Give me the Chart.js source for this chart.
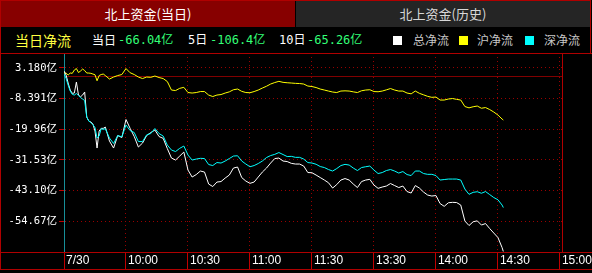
<!DOCTYPE html>
<html>
<head>
<meta charset="utf-8">
<script src="https://cdn.jsdelivr.net/npm/chart.js@4/dist/chart.umd.min.js"></script>
<style>
  html,body{margin:0;padding:0;background:#000;}
  body{width:592px;height:273px;overflow:hidden;position:relative;font-family:"Noto Sans CJK SC",sans-serif;}
  .abs{position:absolute;white-space:nowrap;}
  #frame{left:0;top:0;width:591px;height:53px;border-left:1px solid #b00000;border-top:1px solid #b00000;border-right:1px solid #b00000;box-sizing:border-box;}
  .tab{top:1px;height:26px;line-height:26px;text-align:center;font-size:13px;}
  #tab1{left:1px;width:294px;background:#870000;color:#fff;}
  #tab2{left:296px;width:294px;background:#252525;color:#d8d8d8;}
  .row{top:31px;height:18px;line-height:18px;font-size:12px;}
  .num{font-family:"DejaVu Sans Mono","Noto Sans CJK SC",monospace;color:#33ff77;}
  .lab{color:#fff;}
  .sq{position:absolute;top:36px;width:9px;height:9px;}
  .lg{color:#c8c8c8;}
  #c{position:absolute;left:0;top:53px;}
</style>
</head>
<body>
<div id="frame" class="abs"></div>
<div id="tab1" class="abs tab">北上资金(当日)</div>
<div id="tab2" class="abs tab">北上资金(历史)</div>

<div class="abs row" style="left:15px;font-size:14px;color:#ffff40;">当日净流</div>
<div class="abs row lab" style="left:92px;">当日</div>
<div class="abs row num" style="left:118px;">-66.04亿</div>
<div class="abs row lab" style="left:188px;font-family:'DejaVu Sans Mono','Noto Sans CJK SC';">5日</div>
<div class="abs row num" style="left:210px;">-106.4亿</div>
<div class="abs row lab" style="left:279px;font-family:'DejaVu Sans Mono','Noto Sans CJK SC';">10日</div>
<div class="abs row num" style="left:307px;">-65.26亿</div>

<div class="sq" style="left:393px;background:#fff;"></div>
<div class="abs row lg" style="left:413px;">总净流</div>
<div class="sq" style="left:459px;background:#ffff00;"></div>
<div class="abs row lg" style="left:477px;">沪净流</div>
<div class="sq" style="left:525px;background:#00ffff;"></div>
<div class="abs row lg" style="left:544px;">深净流</div>

<canvas id="c" width="592" height="220"></canvas>

<script>
// ---- data (minutes since 9:30 on the trading clock, values in 亿) ----
const times = [0,1,2,3,4,5,6,7,8,9,10,11,12,13,14,15,16,17,18,19,20,
  22,24,26,28,30,32,34,36,38,40,42,44,46,48,50,52,54,56,58,60,
  62,64,66,68,70,72,74,76,78,80,82,84,86,88,90,92,94,96,98,100,
  102,104,106,108,110,112,114,116,118,120,122,124,126,128,130,132,134,136,138,140,
  142,144,146,148,150,152,154,156,158,160,162,164,166,168,170,172,174,176,178,180,
  182,184,186,188,190,192,194,196,198,200,202,204,206,208,210,212,212.6];

const totalFlow = [1.96,0.45,-2.56,-5.20,-6.44,-6.33,-2.19,-7.09,-7.73,-7.09,-5.95,-15.38,-16.89,-17.26,-18.02,-20.65,-27.06,-20.65,-19.64,-19.64,-19.15,
  -24.42,-27.06,-22.35,-23.10,-16.32,-19.64,-22.73,-26.68,-25.18,-22.35,-21.22,-20.28,-22.73,-23.41,-27.25,-30.83,-31.58,-30.08,-28.57,-35.35,
  -37.99,-37.05,-35.73,-36.11,-40.63,-41.57,-39.88,-39.69,-38.37,-37.24,-34.60,-34.22,-38.18,-39.50,-40.37,-39.88,-37.99,-36.11,-34.60,-32.71,
  -31.02,-30.83,-31.96,-32.15,-32.83,-33.09,-33.09,-33.85,-36.30,-36.37,-37.24,-38.18,-39.12,-40.14,-42.14,-40.82,-39.12,-38.56,-39.12,-40.63,
  -41.95,-39.69,-39.12,-38.86,-41.01,-42.25,-41.76,-41.38,-40.44,-41.20,-41.95,-41.38,-43.46,-44.02,-41.20,-42.14,-43.65,-44.78,-45.15,-44.96,
  -47.98,-49.03,-47.68,-47.53,-47.60,-48.54,-54.57,-56.27,-54.84,-54.50,-56.08,-55.52,-57.40,-59.10,-60.79,-64.56,-66.04];

const shFlow = [1.21,1.21,0.45,1.21,1.09,2.34,2.90,1.39,1.96,2.71,2.15,1.21,1.21,1.09,0.83,0.57,-1.70,0.26,0.64,0.83,0.26,
  -1.06,-0.30,0.26,0.64,2.90,1.32,0.64,-0.30,-0.87,-0.30,-0.41,0.08,-0.49,-0.87,-2.00,-5.20,-5.39,-4.56,-4.18,-6.14,
  -6.33,-6.14,-5.77,-5.77,-7.09,-7.65,-7.09,-6.90,-6.33,-5.88,-5.09,-4.82,-5.69,-6.14,-6.22,-5.77,-5.20,-4.45,-3.77,-2.94,
  -2.37,-1.92,-2.30,-2.45,-2.56,-2.68,-2.75,-2.94,-3.69,-3.88,-4.26,-4.82,-5.20,-5.58,-5.95,-6.14,-5.58,-5.50,-5.58,-5.88,
  -6.14,-5.47,-5.20,-5.09,-5.77,-5.84,-5.58,-5.13,-4.64,-5.20,-5.58,-5.58,-6.33,-6.63,-5.58,-6.44,-7.01,-7.58,-7.95,-7.84,
  -8.97,-8.97,-8.59,-8.40,-8.71,-8.97,-11.42,-11.91,-11.50,-11.23,-12.06,-11.80,-12.55,-13.49,-14.62,-16.13,-16.51];

const szFlow = [0.83,-0.79,-3.32,-5.58,-6.82,-7.09,-6.52,-7.27,-8.03,-8.59,-9.16,-15.38,-16.89,-17.45,-18.28,-19.33,-23.29,-22.54,-19.71,-20.09,-19.71,
  -23.29,-25.37,-22.35,-22.84,-18.39,-20.47,-21.22,-24.61,-24.61,-22.09,-21.60,-19.71,-21.60,-22.54,-25.93,-27.82,-28.38,-27.17,-26.31,-29.70,
  -31.58,-31.21,-30.94,-31.02,-33.28,-33.66,-32.53,-32.71,-31.96,-31.02,-30.08,-29.96,-31.96,-33.09,-34.11,-33.66,-32.90,-31.96,-30.64,-29.89,
  -29.44,-28.76,-29.51,-30.27,-30.19,-30.57,-30.57,-31.21,-32.53,-32.71,-33.17,-34.03,-34.41,-35.16,-35.73,-34.79,-33.66,-33.21,-33.47,-34.60,
  -35.54,-34.41,-34.11,-33.85,-35.36,-36.67,-36.30,-35.54,-35.16,-35.73,-36.48,-35.92,-37.05,-37.43,-35.73,-35.73,-36.67,-36.97,-36.97,-37.43,
  -39.12,-38.93,-38.75,-38.75,-38.75,-39.12,-42.51,-44.51,-43.76,-43.53,-44.10,-43.46,-44.59,-45.72,-46.55,-48.54,-49.49];

const xTickMinutes = [0,30,60,90,120,150,180,210,240];
const xTickLabels = ['7/30','10:00','10:30','11:00','11:30','13:30','14:00','14:30','15:00'];
const yTickValues = [3.180,-8.391,-19.96,-31.53,-43.10,-54.67];
const yTickLabels = ['3.180亿','-8.391亿','-19.96亿','-31.53亿','-43.10亿','-54.67亿'];
const yMin = -66.24, yMax = 8.76;
const xMin = 0, xMax = 241;

const pts = arr => times.map((t,i)=>({x:t,y:arr[i]}));

const framePlugin = {
  id:'frame',
  afterDraw(chart){
    const {ctx, chartArea:a, width} = chart;
    const rowH = 17;
    ctx.save();
    ctx.strokeStyle = '#b00000';
    ctx.lineWidth = 1;
    ctx.beginPath();
    ctx.moveTo(0, a.top+0.5); ctx.lineTo(width, a.top+0.5);
    ctx.moveTo(0, a.bottom+0.5); ctx.lineTo(width, a.bottom+0.5);
    ctx.moveTo(0, a.bottom+rowH+0.5); ctx.lineTo(width, a.bottom+rowH+0.5);
    ctx.moveTo(0.5, 0); ctx.lineTo(0.5, a.bottom+rowH+1);
    ctx.moveTo(a.right+0.5, a.top); ctx.lineTo(a.right+0.5, a.bottom);
    ctx.stroke();
    ctx.restore();
  }
};

new Chart(document.getElementById('c'), {
  type:'line',
  data:{
    datasets:[
      {label:'总净流', data:pts(totalFlow), borderColor:'#ffffff', order:1},
      {label:'沪净流', data:pts(shFlow), borderColor:'#ffff00', order:2},
      {label:'深净流', data:pts(szFlow), borderColor:'#00ffff', order:0}
    ]
  },
  options:{
    responsive:false,
    animation:false,
    devicePixelRatio:1,
    layout:{padding:{left:0,right:30,top:0,bottom:0}},
    elements:{line:{borderWidth:1,tension:0},point:{radius:0,hoverRadius:0}},
    plugins:{legend:{display:false},tooltip:{enabled:false},title:{display:false}},
    scales:{
      x:{
        type:'linear', min:xMin, max:xMax,
        afterBuildTicks: s => { s.ticks = xTickMinutes.map(v=>({value:v})); },
        afterFit: s => { s.height = 21; s.paddingLeft = 0; s.paddingRight = 0; },
        ticks:{
          autoSkip:false, maxRotation:0, minRotation:0, align:'start', labelOffset:2, padding:-16,
          color:'#ffffff', font:{family:'"Liberation Sans", Arial, sans-serif', size:12},
          callback:(v,i)=>xTickLabels[i]
        },
        grid:{color:'#990000', lineWidth:1, drawTicks:true, tickLength:17, tickColor:'#c00000', tickWidth:1, tickBorderDash:[]},
        border:{display:false, dash:[1,3]}
      },
      y:{
        type:'linear', min:yMin, max:yMax,
        afterBuildTicks: s => { s.ticks = yTickValues.concat([0]).map(v=>({value:v})); },
        afterFit: s => { s.width = 64; s.paddingTop = 0; s.paddingBottom = 0; },
        ticks:{
          autoSkip:false, padding:2, color:'#ffffff',
          font:{family:'"DejaVu Sans Mono", "Noto Sans CJK SC", monospace', size:10.5},
          callback:(v,i)=> i < yTickLabels.length ? yTickLabels[i] : ''
        },
        grid:{
          color: c => (c.tick && c.tick.value===0) ? '#800000' : '#990000',
          lineWidth:1, drawTicks:true, tickLength:5,
          tickColor: c => (c.tick && c.tick.value===0) ? 'rgba(0,0,0,0)' : '#c00000',
          tickBorderDash:[]
        },
        border:{display:true, color:'#178f99', width:1,
          dash: c => (c.tick && c.tick.value===0) ? [] : [1,3]}
      }
    }
  },
  plugins:[framePlugin]
});
</script>
</body>
</html>
